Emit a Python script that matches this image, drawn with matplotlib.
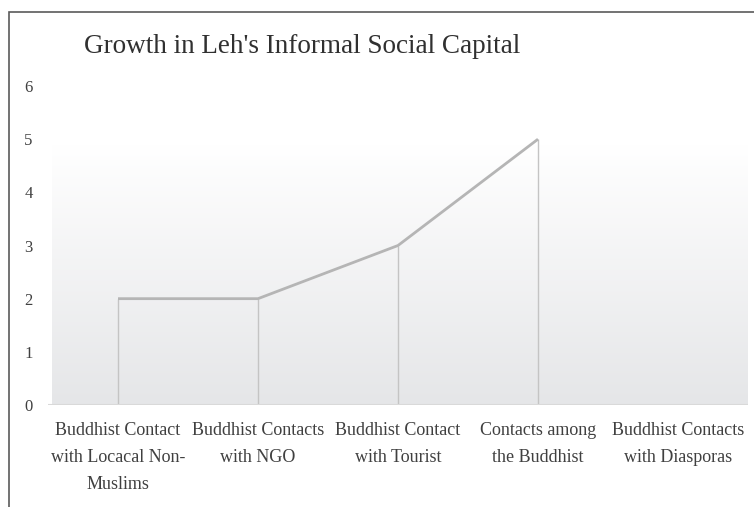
import matplotlib.pyplot as plt
import numpy as np
from matplotlib.patches import Rectangle

categories = [
    "Buddhist Contact\nwith Locacal Non-\nMuslims",
    "Buddhist Contacts\nwith NGO",
    "Buddhist Contact\nwith Tourist",
    "Contacts among\nthe Buddhist",
    "Buddhist Contacts\nwith Diasporas",
]
values = [2, 2, 3, 5]  # last category has no value
yticks = [0, 1, 2, 3, 4, 5, 6]
title = "Growth in Leh's Informal Social Capital"

plt.rcParams["font.family"] = ["Liberation Serif", "DejaVu Serif"]

fig = plt.figure(figsize=(7.54, 5.07), dpi=100)
ax = fig.add_axes([48 / 754, 1 - 405 / 507, 700 / 754, 319 / 507])

x = np.arange(len(categories))
ax.set_xlim(-0.5, len(categories) - 0.5)
ax.set_ylim(0, 6)

# gradient background: white at the top, light grey at the axis
grad = np.linspace(0, 1, 256).reshape(-1, 1)
top_c = np.array([1.0, 1.0, 1.0])
bot_c = np.array([0xE5, 0xE6, 0xE8]) / 255
img = top_c[None, None, :] * grad[:, :, None] + bot_c[None, None, :] * (1 - grad)[:, :, None]
ax.imshow(img, extent=[-0.47, len(categories) - 0.5, 0, 4.89], origin="lower",
          aspect="auto", zorder=0, interpolation="bicubic")

xv = x[: len(values)]
ax.vlines(xv, 0, values, color="#c4c4c4", linewidth=1.0, zorder=2)
ax.plot(xv, values, color="#b5b5b5", linewidth=2.0, zorder=3, solid_capstyle="butt")

ax.axhline(0, color="#d9d9d9", linewidth=1.5, zorder=4)

for s in ax.spines.values():
    s.set_visible(False)
ax.set_yticks(yticks)
ax.set_yticklabels([str(t) for t in yticks], fontsize=12, color="#404040")
ax.tick_params(axis="y", length=0, pad=11)
ax.set_xticks(x)
ax.set_xticklabels(categories, fontsize=13, color="#404040", linespacing=1.78)
ax.tick_params(axis="x", length=0, pad=12)

fig.text(84 / 754, 1 - 53 / 507, title, fontsize=19.5, color="#303030",
         va="baseline", ha="left")

# outer frame (left and top edges visible)
fig.add_artist(Rectangle((8.5 / 754, -0.05), 1.0, 1 - 12 / 507 + 0.05, transform=fig.transFigure,
                         fill=False, edgecolor="#5a5a5a", linewidth=1.2))

fig.savefig("out.png", dpi=100)
